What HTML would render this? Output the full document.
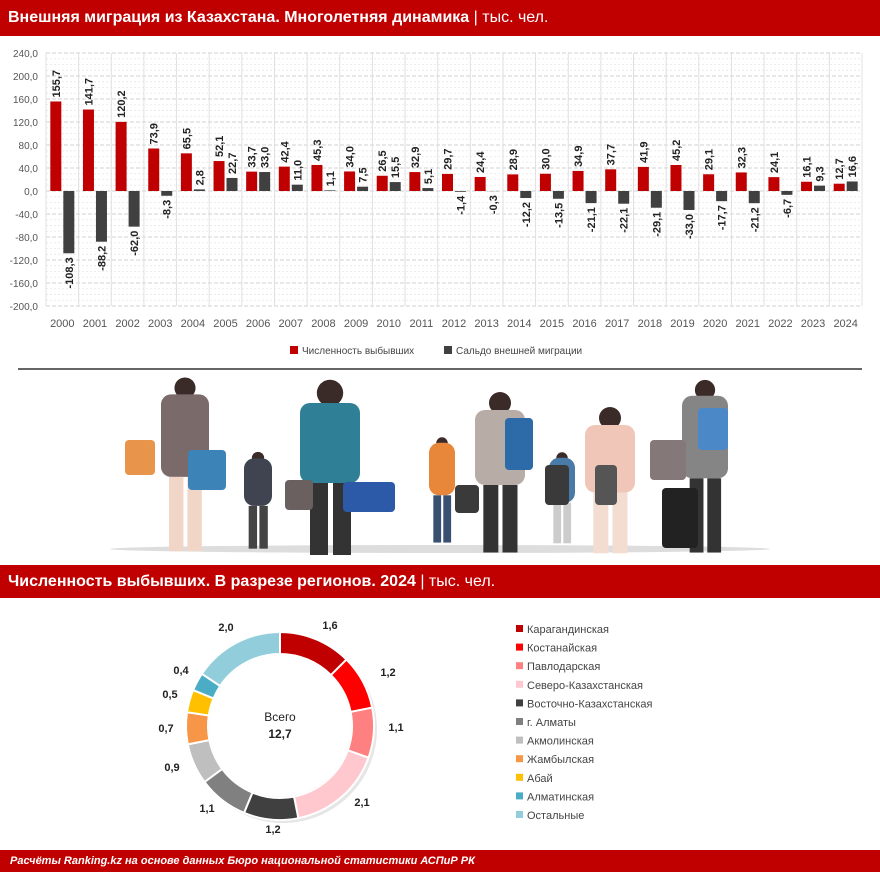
<!DOCTYPE html>
<html><head><meta charset="utf-8">
<style>
body{margin:0;width:880px;height:872px;background:#fff;font-family:"Liberation Sans",sans-serif;overflow:hidden;position:relative}
.bar{position:absolute;left:0;width:880px;background:#c00000;color:#fff;font-weight:bold}
</style></head><body>
<div class="bar" style="top:0;height:36px;font-size:16px;line-height:36px;padding-left:8px;box-sizing:border-box">Внешняя миграция из Казахстана. Многолетняя динамика <span style="font-weight:normal">| тыс. чел.</span></div>
<div class="bar" style="top:565px;height:33px;font-size:16px;line-height:33px;padding-left:8px;box-sizing:border-box">Численность выбывших. В разрезе регионов. 2024 <span style="font-weight:normal">| тыс. чел.</span></div>
<div class="bar" style="top:850px;height:22px;font-size:11px;line-height:22px;padding-left:10px;box-sizing:border-box;font-style:italic">Расчёты Ranking.kz на основе данных Бюро национальной статистики АСПиР РК</div>
<svg id="s" width="880" height="872" style="position:absolute;left:0;top:0" xmlns="http://www.w3.org/2000/svg"></svg>
<script>
var s=document.getElementById('s'),h='';
var y0=191,k=0.575,L=46,W=32.64;
for(var v=-200;v<=240;v+=10){var y=y0-v*k;
 h+='<line x1="'+L+'" x2="862" y1="'+y+'" y2="'+y+'" stroke="'+(v%40==0?'#d0d0d0':'#ececec')+'" stroke-dasharray="'+(v%40==0?'4,2':'2,2')+'" stroke-width="1"/>';
 if(v%40==0)h+='<text x="38" y="'+(y+4)+'" font-size="10" fill="#555" text-anchor="end">'+v.toFixed(1).replace('.',',')+'</text>';}
var a=[155.7,141.7,120.2,73.9,65.5,52.1,33.7,42.4,45.3,34.0,26.5,32.9,29.7,24.4,28.9,30.0,34.9,37.7,41.9,45.2,29.1,32.3,24.1,16.1,12.7];
var b=[-108.3,-88.2,-62.0,-8.3,2.8,22.7,33.0,11.0,1.1,7.5,15.5,5.1,-1.4,-0.3,-12.2,-13.5,-21.1,-22.1,-29.1,-33.0,-17.7,-21.2,-6.7,9.3,16.6];
function f(v){return v.toFixed(1).replace('.',',')}
function lab(x,y,t,anc){return '<text transform="translate('+x+','+y+') rotate(-90)" font-size="11" font-weight="bold" fill="#222" text-anchor="'+anc+'">'+t+'</text>';}
for(var i=0;i<25;i++){var c=L+W*i+W/2;
 h+='<line x1="'+(L+W*i)+'" x2="'+(L+W*i)+'" y1="53" y2="306" stroke="#e0e0e0"/>';
 var ya=y0-a[i]*k;h+='<rect x="'+(c-12)+'" y="'+ya+'" width="11" height="'+(a[i]*k)+'" fill="#c00000"/>';
 h+=lab(c-2.5,ya-4,f(a[i]),'start');
 var yb=b[i]>=0?y0-b[i]*k:y0;h+='<rect x="'+(c+1)+'" y="'+yb+'" width="11" height="'+Math.abs(b[i]*k)+'" fill="#404040"/>';
 if(b[i]>=0)h+=lab(c+10.5,yb-4,f(b[i]),'start');else h+=lab(c+10.5,y0-b[i]*k+4,f(b[i]),'end');
 h+='<text x="'+c+'" y="327" font-size="11" fill="#555" text-anchor="middle">'+(2000+i)+'</text>';}
h+='<line x1="862" x2="862" y1="53" y2="306" stroke="#e0e0e0"/>';
h+='<rect x="290" y="346" width="8" height="8" fill="#c00000"/><text x="302" y="354" font-size="10" fill="#444">Численность выбывших</text>';
h+='<rect x="444" y="346" width="8" height="8" fill="#404040"/><text x="456" y="354" font-size="10" fill="#444">Сальдо внешней миграции</text>';
h+='<line x1="18" x2="862" y1="369" y2="369" stroke="#333" stroke-width="1.5"/>';
// illustration
h+='<ellipse cx="440" cy="549" rx="330" ry="4" fill="#ddd"/>';
var P=[[185,380,48,165,'#7a6a6a','#f1d6c8'],[258,450,28,95,'#3f4450','#444'],[330,385,60,160,'#2f7f96','#333'],[442,435,26,105,'#e8863a','#3a5070'],[500,395,50,150,'#b8aca6','#333'],[562,450,26,90,'#4a7aa8','#ccc'],[610,410,50,135,'#f0c6b8','#f2ddd0'],[705,382,46,165,'#858585','#333']];
P.forEach(function(p){var x=p[0],t=p[1],w=p[2],hh=p[3];
 h+='<circle cx="'+x+'" cy="'+(t+8)+'" r="'+(w*0.22)+'" fill="#3a2a28"/>';
 h+='<rect x="'+(x-w/2)+'" y="'+(t+w*0.3)+'" width="'+w+'" height="'+(hh*0.5)+'" rx="10" fill="'+p[4]+'"/>';
 h+='<rect x="'+(x-w/3)+'" y="'+(t+w*0.3+hh*0.5)+'" width="'+(w*0.3)+'" height="'+(hh*0.45)+'" fill="'+p[5]+'"/>';
 h+='<rect x="'+(x+w*0.05)+'" y="'+(t+w*0.3+hh*0.5)+'" width="'+(w*0.3)+'" height="'+(hh*0.45)+'" fill="'+p[5]+'"/>';});
[[125,440,30,35,'#e8944a'],[188,450,38,40,'#3c84b8'],[285,480,28,30,'#6a6060'],[343,482,52,30,'#2c5aa8'],[455,485,24,28,'#3a3a3a'],[505,418,28,52,'#2c6aa8'],[545,465,24,40,'#3a3a3a'],[595,465,22,40,'#555'],[650,440,36,40,'#857878'],[698,408,30,42,'#4a88c8'],[662,488,36,60,'#222']].forEach(function(q){h+='<rect x="'+q[0]+'" y="'+q[1]+'" width="'+q[2]+'" height="'+q[3]+'" rx="4" fill="'+q[4]+'"/>';});
// donut
var vals=[1.6,1.2,1.1,2.1,1.2,1.1,0.9,0.7,0.5,0.4,2.0],cols=['#c00000','#ff0000','#ff8080','#ffc7ce','#404040','#808080','#bfbfbf','#f79646','#ffc000','#4bacc6','#92cddc'];
var names=['Карагандинская','Костанайская','Павлодарская','Северо-Казахстанская','Восточно-Казахстанская','г. Алматы','Акмолинская','Жамбылская','Абай','Алматинская','Остальные'];
var tot=12.8,cx=280,cy=726,R=94,r=72,ang=-Math.PI/2;
h+='<circle cx="'+(cx+3)+'" cy="'+(cy+3)+'" r="'+R+'" fill="#e6e6e6"/>';
vals.forEach(function(v,i){var a2=ang+v/tot*2*Math.PI;
 function P(rr,an){return (cx+rr*Math.cos(an)).toFixed(2)+','+(cy+rr*Math.sin(an)).toFixed(2)}
 var lg=(a2-ang)>Math.PI?1:0;
 h+='<path d="M'+P(R,ang)+' A'+R+','+R+' 0 '+lg+' 1 '+P(R,a2)+' L'+P(r,a2)+' A'+r+','+r+' 0 '+lg+' 0 '+P(r,ang)+'Z" fill="'+cols[i]+'" stroke="#fff" stroke-width="2"/>';
 ang=a2;
 h+='<rect x="516" y="'+(625+i*18.6)+'" width="7" height="7" fill="'+cols[i]+'"/><text x="527" y="'+(633+i*18.6)+'" font-size="11" fill="#444">'+names[i]+'</text>';});
h+='<circle cx="'+cx+'" cy="'+cy+'" r="'+(r-1)+'" fill="#fff"/>';
[[330,629,'1,6'],[388,676,'1,2'],[396,731,'1,1'],[362,806,'2,1'],[273,833,'1,2'],[207,812,'1,1'],[172,771,'0,9'],[166,732,'0,7'],[170,698,'0,5'],[181,674,'0,4'],[226,631,'2,0']].forEach(function(t){h+='<text x="'+t[0]+'" y="'+t[1]+'" font-size="11" font-weight="bold" fill="#222" text-anchor="middle">'+t[2]+'</text>';});
h+='<text x="280" y="721" font-size="12" fill="#222" text-anchor="middle">Всего</text><text x="280" y="738" font-size="12" font-weight="bold" fill="#222" text-anchor="middle">12,7</text>';
s.innerHTML=h;
</script>
</body></html>
